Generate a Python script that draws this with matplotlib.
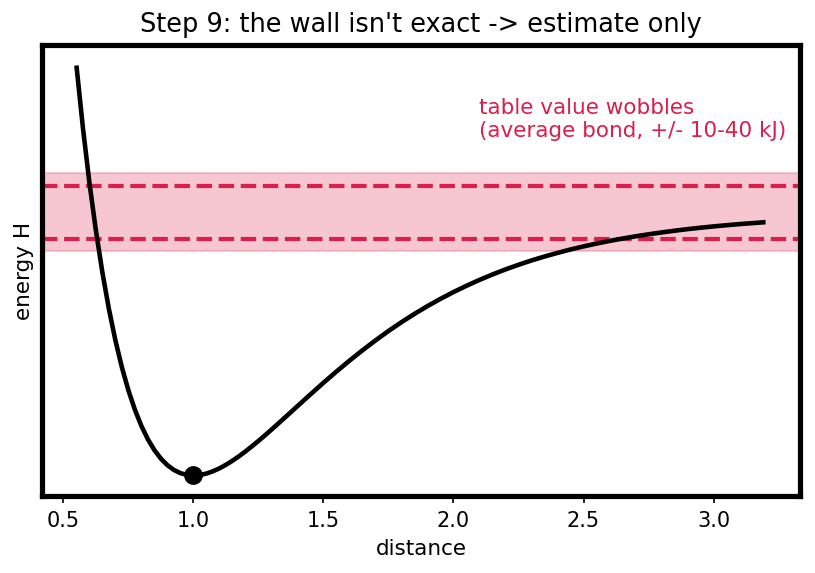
import matplotlib
matplotlib.use("Agg")
import matplotlib.pyplot as plt

# distance values and energy (energy relative to the well bottom, dissociation ~1)
distance = [0.55, 0.575, 0.60, 0.625, 0.65, 0.675, 0.70, 0.725, 0.75, 0.775,
            0.80, 0.825, 0.85, 0.875, 0.90, 0.925, 0.95, 0.975, 1.00,
            1.025, 1.05, 1.075, 1.10, 1.125, 1.15, 1.175, 1.20, 1.225, 1.25, 1.275,
            1.30, 1.35, 1.40, 1.45, 1.50,
            1.55, 1.60, 1.65, 1.70, 1.75, 1.80, 1.85, 1.90, 1.95, 2.00,
            2.05, 2.10, 2.15, 2.20, 2.25, 2.30, 2.35, 2.40, 2.45, 2.50,
            2.55, 2.60, 2.65, 2.70, 2.75, 2.80, 2.85, 2.90, 2.95, 3.00,
            3.05, 3.10, 3.15, 3.20]
energy = [1.5573, 1.3202, 1.1118, 0.9293, 0.7702, 0.6320, 0.5127, 0.4102, 0.3230, 0.2493,
          0.1878, 0.1371, 0.0961, 0.0637, 0.0389, 0.0209, 0.0089, 0.0021, 0.0,
          0.0019, 0.0074, 0.0160, 0.0271, 0.0406, 0.0560, 0.0730, 0.0914, 0.1109, 0.1313, 0.1524,
          0.1741, 0.2185, 0.2634, 0.3081, 0.3521,
          0.3949, 0.4361, 0.4755, 0.5131, 0.5488, 0.5823, 0.6139, 0.6434, 0.6709, 0.6967,
          0.7206, 0.7429, 0.7635, 0.7827, 0.8003, 0.8167, 0.8317, 0.8455, 0.8584, 0.8701,
          0.8810, 0.8909, 0.9000, 0.9084, 0.9161, 0.9231, 0.9297, 0.9357, 0.9411, 0.9461,
          0.9506, 0.9549, 0.9586, 0.9622]

min_point = (1.0, 0.0)
table_value = 1.0
dashed_offset = 0.10
band_offset = 0.148
xticks = [0.5, 1.0, 1.5, 2.0, 2.5, 3.0]

red = "#dc1e4b"

fig = plt.figure(figsize=(815 / 150, 573 / 150), dpi=150)
ax = fig.add_axes([0.0515, 0.1344, 0.9301, 0.7871])

ax.axhspan(table_value - band_offset, table_value + band_offset,
           facecolor=red, alpha=0.25, edgecolor=red, linewidth=0.8)
ax.axhline(table_value + dashed_offset, color=red, lw=2, ls="--")
ax.axhline(table_value - dashed_offset, color=red, lw=2, ls="--")

ax.plot(distance, energy, color="black", lw=2.2, solid_capstyle="butt")
ax.plot([min_point[0]], [min_point[1]], "o", color="black", ms=8)

ax.text(2.1, 1.27, "table value wobbles\n(average bond, +/- 10-40 kJ)",
        color=red, fontsize=10.3, ha="left", va="bottom")

ax.set_xticks(xticks)
ax.set_yticks([])
ax.set_xlim(0.4175, 3.3325)
ax.set_ylim(-0.0779, 1.6352)
ax.set_xlabel("distance", fontsize=10.3)
ax.set_ylabel("energy H", fontsize=10.3)
ax.set_title("Step 9: the wall isn't exact -> estimate only", fontsize=12.3)
for s in ax.spines.values():
    s.set_linewidth(2.5)
ax.tick_params(axis="x", labelsize=10)

fig.savefig("out.png", dpi=150)
